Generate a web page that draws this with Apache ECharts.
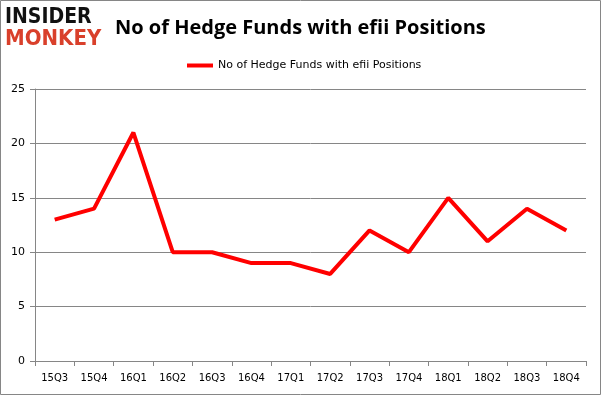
<!DOCTYPE html>
<html><head><meta charset="utf-8">
<script src="https://cdn.jsdelivr.net/npm/echarts@6/dist/echarts.min.js"></script>
<style>html,body{margin:0;padding:0;background:#fff}#c{width:601px;height:395px}</style>
</head><body><div id="c"></div>
<script>
const categories = ['15Q3','15Q4','16Q1','16Q2','16Q3','16Q4','17Q1','17Q2','17Q3','17Q4','18Q1','18Q2','18Q3','18Q4'];
const hedgeFunds = [13,14,21,10,10,9,9,8,12,10,15,11,14,12];
const yTicks = {min:0, max:25, interval:5};
const seriesName = 'No of Hedge Funds with efii Positions';
const titleText = 'No of Hedge Funds with efii Positions';

const chart = echarts.init(document.getElementById('c'), null, {renderer:'canvas'});
const font = 'Tahoma, "DejaVu Sans", sans-serif';
chart.setOption({
  animation:false,
  backgroundColor:'#fff',
  title:{text:titleText, left:110, top:13,
    textStyle:{fontFamily:'"Open Sans", "Liberation Sans", sans-serif', fontWeight:'bold', fontSize:20, color:'#000'}},
  legend:{top:55, left:182, itemWidth:26, itemHeight:4, itemGap:4, icon:'rect',
    textStyle:{fontFamily:font, fontSize:11, color:'#000'},
    data:[{name:seriesName, icon:'rect'}]},
  grid:{left:35, right:15, top:89, bottom:34, containLabel:false},
  xAxis:{type:'category', data:categories, boundaryGap:true,
    axisLine:{lineStyle:{color:'#868686', width:1}},
    axisTick:{show:true, length:5, lineStyle:{color:'#868686'}},
    axisLabel:{fontFamily:font, fontSize:10, color:'#000', margin:12}},
  yAxis:{type:'value', min:yTicks.min, max:yTicks.max, interval:yTicks.interval,
    axisLine:{show:true, lineStyle:{color:'#868686'}},
    axisTick:{show:true, length:5, lineStyle:{color:'#868686'}},
    splitLine:{lineStyle:{color:'#868686', width:1}},
    axisLabel:{fontFamily:font, fontSize:11, color:'#000', margin:10}},
  series:[{name:seriesName, type:'line', data:hedgeFunds, symbol:'none',
    lineStyle:{color:'#ff0000', width:4}, itemStyle:{color:'#ff0000'}}],
  graphic:[
    {type:'rect', shape:{x:0.5,y:0.5,width:600,height:394}, style:{fill:'none', stroke:'#868686', lineWidth:1}, z:100},
    {type:'text', left:5, top:7, style:{text:'INSIDER', fill:'#111', font:'bold 21px "Liberation Sans Narrow", "DejaVu Sans Condensed", "Liberation Sans", sans-serif'}},
    {type:'text', left:5, top:28, style:{text:'MONKEY', fill:'#d9402b', font:'bold 22px "Liberation Sans Narrow", "DejaVu Sans Condensed", "Liberation Sans", sans-serif'}}
  ]
});
</script></body></html>
